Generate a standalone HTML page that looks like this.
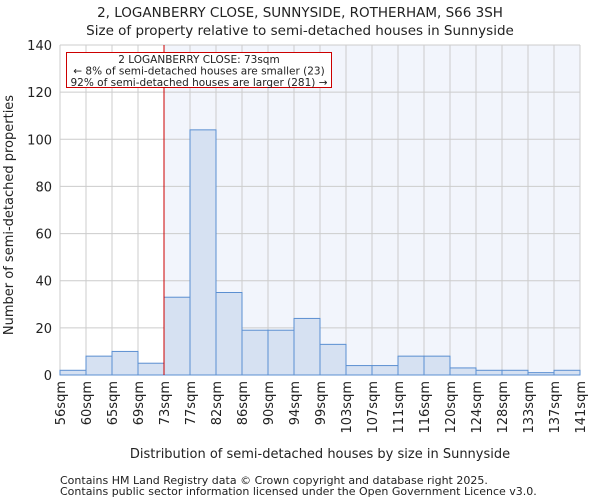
<!DOCTYPE html>
<html><head><meta charset="utf-8"><style>
body{margin:0;background:#fff;font-family:"DejaVu Sans","Liberation Sans",sans-serif;}
svg text{font-family:"DejaVu Sans","Liberation Sans",sans-serif;fill:#222;}
</style></head><body>
<svg id="chart" width="600" height="500" xmlns="http://www.w3.org/2000/svg">
<text x="300" y="17" text-anchor="middle" font-size="13.5">2, LOGANBERRY CLOSE, SUNNYSIDE, ROTHERHAM, S66 3SH</text>
<text x="300" y="35" text-anchor="middle" font-size="13.5">Size of property relative to semi-detached houses in Sunnyside</text>
<g id="plot"></g>
<text x="320" y="458" text-anchor="middle" font-size="13">Distribution of semi-detached houses by size in Sunnyside</text>
<text transform="translate(13,215) rotate(-90)" text-anchor="middle" font-size="13">Number of semi-detached properties</text>
<text x="60" y="484" font-size="11" fill="#444">Contains HM Land Registry data © Crown copyright and database right 2025.</text>
<text x="60" y="495" font-size="11" fill="#444">Contains public sector information licensed under the Open Government Licence v3.0.</text>
</svg>
<script>
const categories=["56sqm","60sqm","65sqm","69sqm","73sqm","77sqm","82sqm","86sqm","90sqm","94sqm","99sqm","103sqm","107sqm","111sqm","116sqm","120sqm","124sqm","128sqm","133sqm","137sqm","141sqm"];
const counts=[2,8,10,5,33,104,35,19,19,24,13,4,4,8,8,3,2,2,1,2];
const yTicks=[0,20,40,60,80,100,120,140];
const markerIndex=4;
const ns="http://www.w3.org/2000/svg";
const X0=60,X1=580,Y0=375,Y1=45,YMAX=140;
const bw=(X1-X0)/counts.length;
const xs=i=>X0+i*bw;
const ys=v=>Y0-(v/YMAX)*(Y0-Y1);
const g=document.getElementById('plot');
function mk(t,a){const e=document.createElementNS(ns,t);for(const k in a)e.setAttribute(k,a[k]);g.appendChild(e);return e;}
const hl=mk('rect',{x:xs(markerIndex),y:Y1,width:X1-xs(markerIndex),height:Y0-Y1,fill:'#f2f5fc'});


for(let i=0;i<=counts.length;i++){const l=mk('line',{x1:xs(i),x2:xs(i),y1:Y1,y2:Y0,stroke:'#cccccc','stroke-width':1});

}
yTicks.forEach(t=>{const l=mk('line',{x1:X0,x2:X1,y1:ys(t),y2:ys(t),stroke:'#cccccc','stroke-width':1});


const tx=mk('text',{x:X0-8,y:ys(t)+5,'text-anchor':'end','font-size':13});tx.textContent=t;

});
counts.forEach((v,i)=>{const r=mk('rect',{x:xs(i),y:ys(v),width:bw,height:Y0-ys(v),fill:'#d6e1f2',stroke:'#5b8fd1','stroke-width':1});

});
categories.forEach((c,i)=>{const x=xs(i);const t=mk('text',{transform:`translate(${x+5},381) rotate(-90)`,'text-anchor':'end','font-size':13});t.textContent=c;

});
const ml=mk('line',{x1:xs(markerIndex),x2:xs(markerIndex),y1:Y1,y2:Y0,stroke:'#cc0000','stroke-width':1});


const box=mk('rect',{x:66.5,y:52.5,width:265,height:35,fill:'#fff',stroke:'#cc0000','stroke-width':1});


["2 LOGANBERRY CLOSE: 73sqm","← 8% of semi-detached houses are smaller (23)","92% of semi-detached houses are larger (281) →"].forEach((s,k)=>{const t=mk('text',{x:199,y:63+k*11.5,'text-anchor':'middle','font-size':10.5});t.textContent=s;

});
</script>
</body></html>
